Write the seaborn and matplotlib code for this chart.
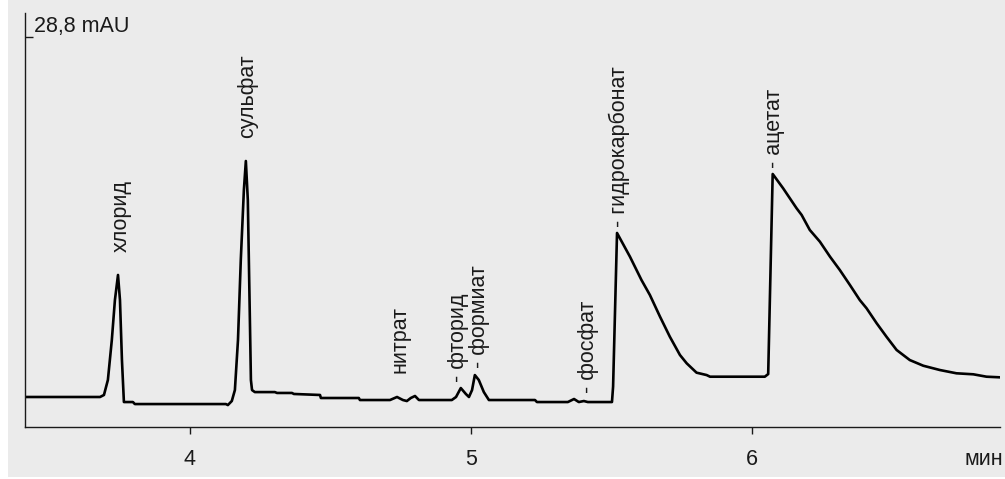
import matplotlib
matplotlib.use("Agg")
import matplotlib.pyplot as plt
from matplotlib.patches import Rectangle
import pandas as pd
import seaborn as sns

# chromatogram trace (time in min, signal in mAU)
time_min = [3.413, 3.680, 3.694, 3.708, 3.722, 3.733, 3.744, 3.751, 3.758, 3.765,
            3.797, 3.804, 4.128, 4.135, 4.149, 4.160, 4.171, 4.181, 4.192, 4.199,
            4.206, 4.214, 4.217, 4.221, 4.231, 4.302, 4.310, 4.363, 4.370, 4.463,
            4.466, 4.601, 4.605, 4.712, 4.737, 4.758, 4.772, 4.786, 4.801, 4.815,
            4.932, 4.947, 4.964, 4.982, 4.993, 5.004, 5.014, 5.028, 5.046, 5.064,
            5.228, 5.235, 5.345, 5.367, 5.384, 5.402, 5.416, 5.502, 5.506, 5.520,
            5.566, 5.607, 5.637, 5.673, 5.708, 5.744, 5.768, 5.803, 5.839, 5.851,
            6.046, 6.058, 6.074, 6.111, 6.159, 6.177, 6.206, 6.242, 6.278, 6.313,
            6.349, 6.384, 6.408, 6.444, 6.479, 6.515, 6.562, 6.610, 6.669, 6.728,
            6.788, 6.835, 6.883]
signal_mau = [0.24, 0.24, 0.40, 1.59, 4.76, 7.93, 9.92, 7.93, 3.17, -0.16,
              -0.16, -0.32, -0.32, -0.40, -0.08, 0.79, 4.76, 11.11, 16.66, 18.96,
              15.87, 5.55, 1.59, 0.79, 0.63, 0.63, 0.56, 0.56, 0.48, 0.40,
              0.16, 0.16, 0.00, 0.00, 0.24, 0.00, -0.08, 0.16, 0.32, 0.00,
              0.00, 0.24, 0.95, 0.48, 0.24, 0.79, 1.98, 1.59, 0.63, 0.00,
              0.00, -0.16, -0.16, 0.08, -0.16, -0.08, -0.16, -0.16, 1.06, 13.25,
              11.37, 9.52, 8.33, 6.61, 5.02, 3.57, 2.91, 2.17, 1.98, 1.85,
              1.85, 2.06, 17.93, 16.80, 15.21, 14.68, 13.49, 12.56, 11.37, 10.31,
              9.12, 7.93, 7.28, 6.09, 5.02, 3.97, 3.17, 2.72, 2.38, 2.12,
              2.04, 1.85, 1.80]

peak_names = ["хлорид", "сульфат", "нитрат", "- фторид", "- формиат",
              "- фосфат", "- гидрокарбонат", "- ацетат"]
label_time = [3.754, 4.206, 4.747, 4.957, 5.032, 5.418, 5.530, 6.082]
label_level = [11.74, 20.79, 2.14, 1.43, 2.54, 0.56, 13.73, 18.41]

x_ticks = [4, 5, 6]
scale_mark = 28.8

df = pd.DataFrame({"t": time_min, "s": signal_mau})

sns.set_theme(style="white")
plt.rcParams['font.family'] = ['Liberation Sans', 'DejaVu Sans']
fs = 15.5

bg = "#ebebeb"
ink = "#1a1a1a"

fig = plt.figure(figsize=(10.05, 4.79), dpi=100, facecolor="white")
fig.patches.append(Rectangle((8 / 1005, 2 / 479), 1 - 8 / 1005, 1 - 2 / 479,
                             transform=fig.transFigure, facecolor=bg,
                             edgecolor="none", zorder=-10))
ax = fig.add_axes([25 / 1005, 1 - 427 / 479, 975 / 1005, 414 / 479])
ax.set_facecolor("none")
ax.set_zorder(5)

sns.lineplot(data=df, x="t", y="s", sort=False, estimator=None,
             color="black", linewidth=1.9, ax=ax)

for name, t, v in zip(peak_names, label_time, label_level):
    ax.text(t, v, name, rotation=90, ha="center", va="bottom",
            fontsize=fs, color=ink)

ax.set_xlim(3.413, 6.883)
ax.set_ylim(-2.14, 30.70)
ax.set_xlabel("")
ax.set_ylabel("")

sns.despine(ax=ax)
for side in ["left", "bottom"]:
    ax.spines[side].set_color(ink)
    ax.spines[side].set_linewidth(1.0)

ax.set_xticks(x_ticks)
ax.set_xticklabels([str(v) for v in x_ticks])
ax.tick_params(axis="x", direction="out", length=5, width=1.0,
               color=ink, labelcolor=ink, labelsize=fs, pad=10.5, bottom=True)
ax.set_yticks([scale_mark])
ax.set_yticklabels([""])
ax.tick_params(axis="y", direction="in", length=6, width=1.0, color=ink, left=True)

ax.annotate("28,8 mAU", xy=(0, scale_mark), xycoords=("axes fraction", "data"),
            xytext=(6.5, 3.6), textcoords="offset points",
            ha="left", va="baseline", fontsize=fs, color=ink)
ax.annotate("мин", xy=(1, 0), xycoords="axes fraction",
            xytext=(2, -16), textcoords="offset points",
            ha="right", va="top", fontsize=fs, color=ink)

fig.savefig("out.png", dpi=100, facecolor="white")
